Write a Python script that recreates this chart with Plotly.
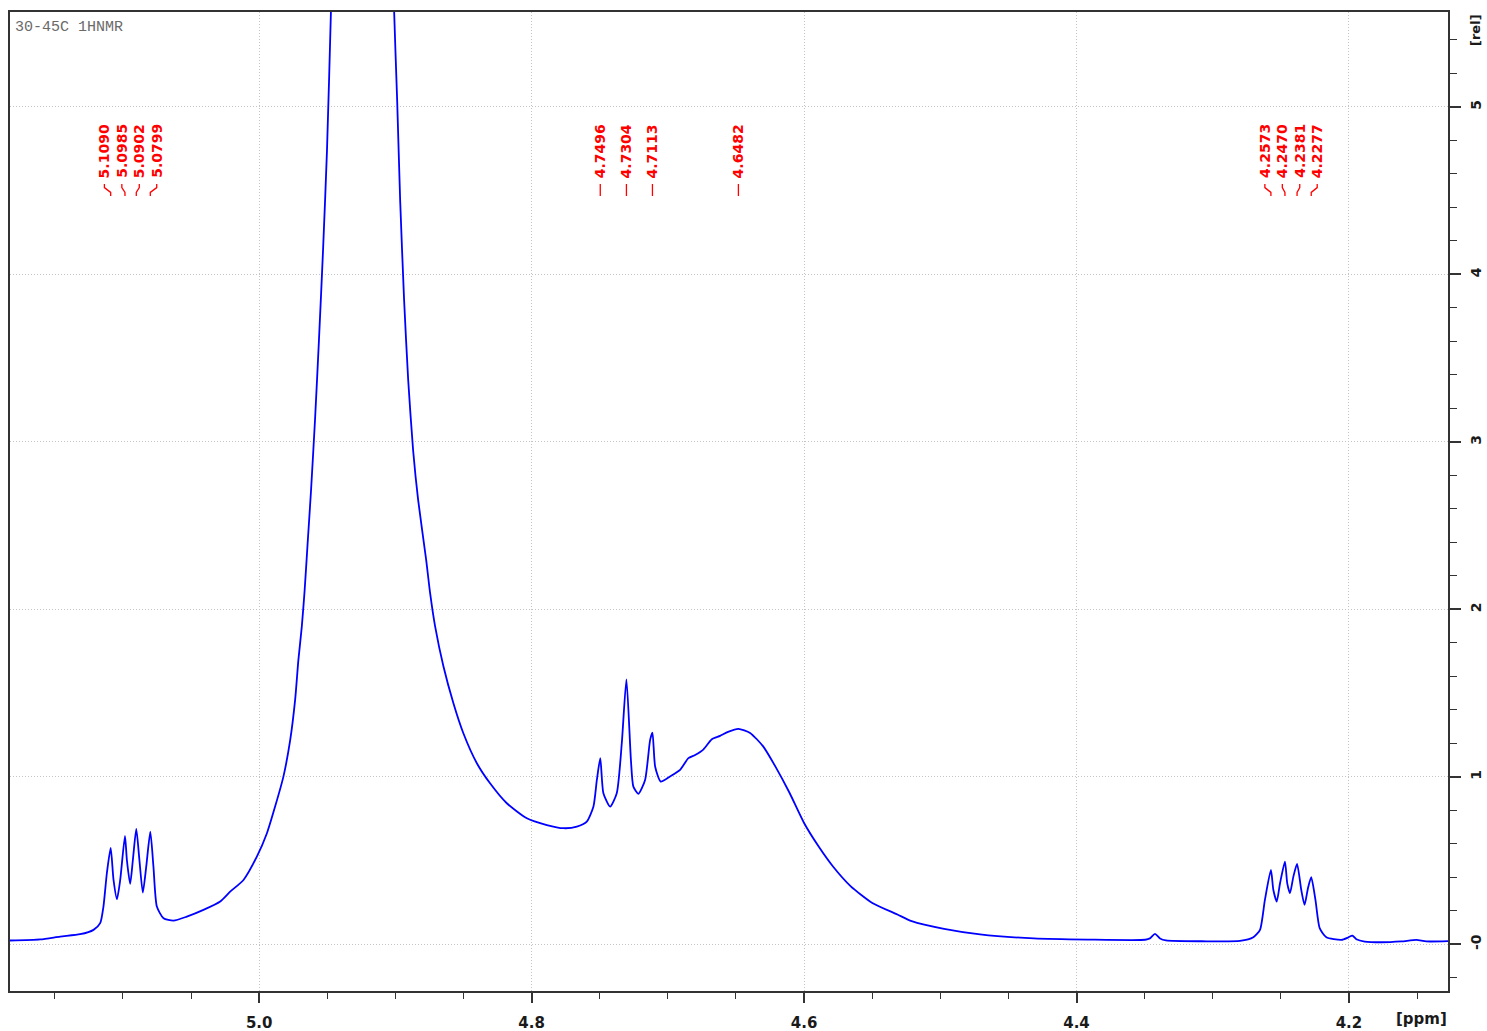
import plotly.graph_objects as go

# 1H NMR trace, 30-45C sample: chemical shift (ppm) and relative intensity
spec_ppm = [
    5.1900, 5.1607, 5.1461, 5.1314, 5.1216, 5.1167, 5.1143, 5.1118, 5.1090, 5.1069,
    5.1044, 5.1020, 5.0985, 5.0971, 5.0947, 5.0927, 5.0902, 5.0879, 5.0854, 5.0829,
    5.0799, 5.0776, 5.0751, 5.0702, 5.0629, 5.0531, 5.0409, 5.0286, 5.0213, 5.0115,
    5.0017, 4.9943, 4.9883, 4.9822, 4.9772, 4.9736, 4.9712, 4.9687, 4.9666, 4.9645,
    4.9619, 4.9590, 4.9561, 4.9531, 4.9502, 4.9473, 4.9400, 4.9240, 4.9080,
    4.9009, 4.8987, 4.8965, 4.8936, 4.8906, 4.8870, 4.8833, 4.8774, 4.8745, 4.8708,
    4.8647, 4.8574, 4.8501, 4.8402, 4.8305, 4.8182, 4.8035, 4.7888, 4.7767, 4.7668,
    4.7595, 4.7546, 4.7521, 4.7496, 4.7473, 4.7424, 4.7375, 4.7338, 4.7304, 4.7271,
    4.7253, 4.7216, 4.7167, 4.7130, 4.7113, 4.7093, 4.7052, 4.6984, 4.6910, 4.6849,
    4.6800, 4.6738, 4.6677, 4.6617, 4.6558, 4.6482, 4.6396, 4.6299, 4.6211, 4.6106,
    4.6000, 4.5894, 4.5789, 4.5657, 4.5499, 4.5315, 4.5210, 4.4972, 4.4708, 4.4313,
    4.3917, 4.3496, 4.3461, 4.3424, 4.3387, 4.3343, 4.3079, 4.2800, 4.2702, 4.2653,
    4.2617, 4.2573, 4.2555, 4.2530, 4.2506, 4.2470, 4.2453, 4.2433, 4.2408, 4.2381,
    4.2350, 4.2326, 4.2301, 4.2277, 4.2246, 4.2215, 4.2166, 4.2056, 4.2007, 4.1975,
    4.1946, 4.1884, 4.1762, 4.1615, 4.1505, 4.1432, 4.1200,
]
spec_int = [
    0.022, 0.030, 0.047, 0.061, 0.087, 0.127, 0.226, 0.425, 0.576, 0.385,
    0.270, 0.385, 0.648, 0.504, 0.361, 0.504, 0.690, 0.504, 0.309, 0.464,
    0.673, 0.464, 0.226, 0.156, 0.142, 0.166, 0.206, 0.256, 0.315, 0.385,
    0.524, 0.664, 0.823, 1.002, 1.221, 1.460, 1.699, 1.897, 2.116, 2.385,
    2.713, 3.131, 3.609, 4.146, 4.743, 5.573, 8.000, 12.000, 8.000,
    5.567, 5.042, 4.445, 3.848, 3.370, 2.952, 2.654, 2.296, 2.097, 1.897,
    1.659, 1.440, 1.261, 1.082, 0.962, 0.843, 0.753, 0.713, 0.694, 0.703,
    0.733, 0.823, 0.982, 1.112, 0.903, 0.823, 0.903, 1.201, 1.583, 1.101,
    0.942, 0.899, 0.982, 1.221, 1.264, 1.061, 0.972, 1.003, 1.042, 1.112,
    1.131, 1.165, 1.225, 1.245, 1.269, 1.287, 1.263, 1.181, 1.063, 0.904,
    0.725, 0.586, 0.467, 0.347, 0.248, 0.179, 0.139, 0.093, 0.060, 0.036,
    0.029, 0.028, 0.036, 0.063, 0.036, 0.024, 0.019, 0.021, 0.043, 0.087,
    0.266, 0.445, 0.325, 0.256, 0.365, 0.494, 0.365, 0.306, 0.405, 0.481,
    0.325, 0.236, 0.336, 0.401, 0.266, 0.097, 0.043, 0.027, 0.041, 0.053,
    0.031, 0.017, 0.013, 0.018, 0.027, 0.018, 0.021,
]

# Peak-pick groups (ppm); labels inside a group are fanned out when crowded
peak_groups = [
    [5.1090, 5.0985, 5.0902, 5.0799],
    [4.7496, 4.7304, 4.7113],
    [4.6482],
    [4.2573, 4.2470, 4.2381, 4.2277],
]

x_ticks = [5.0, 4.8, 4.6, 4.4, 4.2]
y_ticks = [0, 1, 2, 3, 4, 5]
y_tick_text = ["-0", "1", "2", "3", "4", "5"]

X_RANGE = [5.1829, 4.1273]
Y_RANGE = [-0.278, 5.567]

# plot area in pixels, used to place the label rows
LEFT_PX, RIGHT_PX = 10, 1448
TOP_PX, BOT_PX = 12, 991
LABEL_STEP = 0.0128  # minimum spacing of label columns, ppm


def px_x(px):
    return (px - LEFT_PX) / (RIGHT_PX - LEFT_PX)


def py(px):
    return (BOT_PX - px) / (BOT_PX - TOP_PX)


fig = go.Figure()
fig.add_trace(go.Scatter(
    x=spec_ppm, y=spec_int, mode="lines",
    line=dict(color="#0000ff", width=1.8, shape="spline", smoothing=0.6),
    hoverinfo="skip", showlegend=False,
))

RED = "#ff0000"
SANS = "DejaVu Sans, Verdana, sans-serif"
label_font = dict(family=SANS, size=14, color=RED, weight="bold")
annotations = []
shapes = []
y_text_bottom = py(179)
y_conn_top, y_conn_bottom = py(184), py(196)
for group in peak_groups:
    n = len(group)
    spacing = min(abs(group[i] - group[i + 1]) for i in range(n - 1)) if n > 1 else 1.0
    center = sum(group) / n
    for i, p in enumerate(group):
        if spacing < LABEL_STEP:
            lx = center + ((n - 1) / 2 - i) * LABEL_STEP
        else:
            lx = p
        annotations.append(dict(
            x=lx, y=y_text_bottom, xref="x", yref="paper",
            text=f"{p:.4f}", textangle=-90, showarrow=False,
            xanchor="center", yanchor="bottom", font=label_font,
            borderpad=0,
        ))
        ym1 = y_conn_bottom + (y_conn_top - y_conn_bottom) * 0.3
        ym2 = y_conn_bottom + (y_conn_top - y_conn_bottom) * 0.7
        shapes.append(dict(
            type="path", xref="x", yref="paper",
            path=f"M {p},{y_conn_bottom} L {p},{ym1} L {lx},{ym2} L {lx},{y_conn_top}",
            line=dict(color=RED, width=1.3),
        ))

# sample name, top-left corner
annotations.append(dict(
    x=px_x(13), y=py(27), xref="paper", yref="paper", text="30-45C 1HNMR",
    showarrow=False, xanchor="left", yanchor="middle",
    font=dict(family="Liberation Mono, Courier New, monospace", size=15, color="#6a6a6a"),
))
# axis units
annotations.append(dict(
    x=px_x(1421), y=py(1019), xref="paper", yref="paper", text="[ppm]",
    showarrow=False, xanchor="center", yanchor="middle",
    font=dict(family=SANS, size=15, color="#1a1a1a", weight="bold"),
))
annotations.append(dict(
    x=px_x(1475), y=py(30), xref="paper", yref="paper", text="[rel]",
    showarrow=False, xanchor="center", yanchor="middle", textangle=-90,
    font=dict(family=SANS, size=13, color="#1a1a1a", weight="bold"),
))

axis_common = dict(
    showline=True, linecolor="#333333", linewidth=1.5, mirror=True,
    showgrid=True, gridcolor="#c4c4c4", griddash="1px,2px", gridwidth=1,
    zeroline=False, ticks="outside", tickcolor="#333333", tickwidth=1.5,
    automargin=False,
)

fig.update_layout(
    width=1487, height=1031, autosize=False,
    margin=dict(l=LEFT_PX, r=1487 - RIGHT_PX, t=TOP_PX, b=1031 - BOT_PX),
    paper_bgcolor="white", plot_bgcolor="white",
    annotations=annotations, shapes=shapes,
    xaxis=dict(
        **axis_common, range=X_RANGE,
        tickmode="array", tickvals=x_ticks, ticktext=[f"{v:.1f}" for v in x_ticks],
        ticklen=10, ticklabelstandoff=7,
        tickfont=dict(family=SANS, size=15, color="#1a1a1a", weight="bold"),
        minor=dict(tickmode="linear", tick0=0, dtick=0.05, ticks="outside",
                   ticklen=6, tickcolor="#333333", tickwidth=1.2, showgrid=False),
    ),
    yaxis=dict(
        **axis_common, range=Y_RANGE, side="right",
        tickmode="array", tickvals=y_ticks, ticktext=y_tick_text,
        tickangle=-90, ticklen=11, ticklabelstandoff=3,
        tickfont=dict(family=SANS, size=14, color="#1a1a1a", weight="bold"),
        minor=dict(tickmode="linear", tick0=0, dtick=0.2, ticks="outside",
                   ticklen=7, tickcolor="#333333", tickwidth=1.2, showgrid=False),
    ),
)

fig.write_html("out.html")
